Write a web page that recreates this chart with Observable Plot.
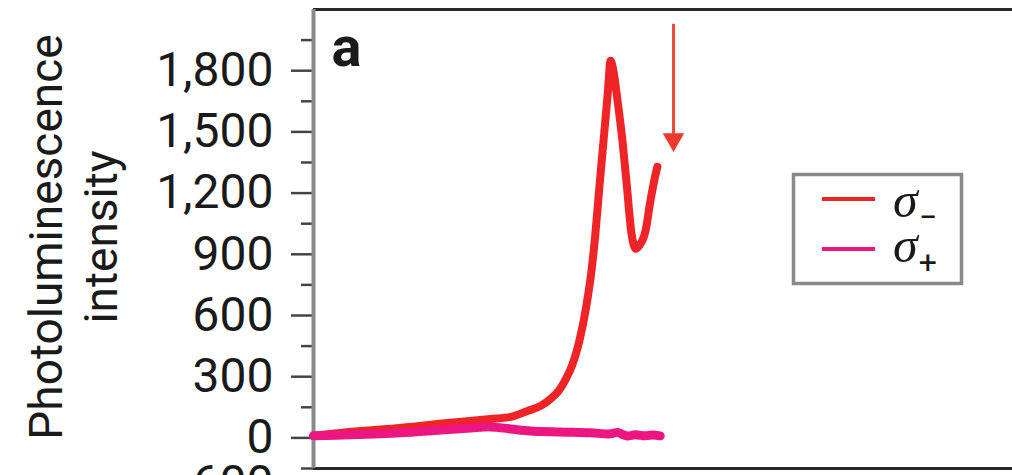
<!DOCTYPE html>
<html><head><meta charset="utf-8">
<script src="https://cdn.jsdelivr.net/npm/d3@7"></script>
<script src="https://cdn.jsdelivr.net/npm/@observablehq/plot@0.6"></script>
<style>
html,body{margin:0;padding:0;background:#fff;overflow:hidden}
#chart{position:relative;width:1012px;height:475px}
</style></head><body><div id="chart"></div>
<script>
// ---- data (x in arbitrary units, 0..100 across the visible frame) ----
const sigmaMinusX = [0, 6.7, 12.4, 19.6, 25.3, 28.2, 30.6, 32.5, 33.9, 35.1, 36.0, 37.0, 38.0, 39.0, 39.7, 40.3, 40.9, 41.5, 42.1, 42.5, 42.9, 43.5, 44.2, 44.8, 45.5, 46.1, 46.6, 47.5, 48.2, 48.8, 49.2];
const sigmaMinusY = [10, 34, 49, 74, 93, 103, 132, 157, 191, 232, 282, 355, 470, 640, 800, 990, 1230, 1460, 1690, 1849, 1800, 1653, 1456, 1246, 1000, 927, 942, 1015, 1162, 1270, 1329];
const sigmaPlusX = [0, 5.3, 12.4, 18.2, 22.5, 25.3, 28.2, 31.0, 35.3, 39.6, 42.5, 43.5, 44.2, 44.9, 46.0, 47.5, 48.5, 49.6];
const sigmaPlusY = [10, 15, 25, 39, 49, 54, 44, 34, 29, 25, 20, 27, 17, 9, 15, 10, 14, 10];
const seriesNames = ["σ", "σ"];
const seriesSubs = ["\u2212", "+"];
const seriesColors = ["#ee2426", "#ec1682"];
const yMajorTicks = [0, 300, 600, 900, 1200, 1500, 1800];
const yMinorTicks = [-150, 150, 450, 750, 1050, 1350, 1650, 1950];
const yDomain = [-150, 2100];
const xDomain = [0, 100];
const yTitleLines = ["Photoluminescence", "intensity"];
const panelLabel = "a";
const clippedLabel = "600";
const arrowX = [51.5];
const arrowTop = [2030];
const arrowTip = [1463];

const minus = sigmaMinusX.map((x, i) => ({x, y: sigmaMinusY[i]}));
const plus = sigmaPlusX.map((x, i) => ({x, y: sigmaPlusY[i]}));
const arrow = arrowX.map((x, i) => ({x, y1: arrowTop[i], y2: arrowTip[i]}));

const font = "Roboto";
const plot = Plot.plot({
  width: 1012, height: 475,
  marginLeft: 313, marginRight: 0, marginTop: 9, marginBottom: 7,
  style: {fontFamily: font, background: "white", overflow: "visible"},
  x: {domain: xDomain, axis: null},
  y: {domain: yDomain, axis: null},
  marks: [
    Plot.axisY(yMinorTicks, {tickSize: 12, fill: "none", stroke: "#444", strokeWidth: 2.5, label: null}),
    Plot.axisY(yMajorTicks, {tickSize: 22, tickPadding: 18, tickFormat: d3.format(","), stroke: "#444", strokeWidth: 2.5, fill: "#1a1a1a", fontSize: 48, label: null}),
    Plot.ruleY([yDomain[1]], {stroke: "#2a2a2a", strokeWidth: 3}),
    Plot.ruleY([yDomain[0]], {stroke: "#2a2a2a", strokeWidth: 3}),
    Plot.ruleX([xDomain[0]], {stroke: "#8a8a8a", strokeWidth: 4}),
    Plot.line(minus, {x: "x", y: "y", curve: "monotone-x", stroke: seriesColors[0], strokeWidth: 8, strokeLinejoin: "round", strokeLinecap: "round"}),
    Plot.line(plus, {x: "x", y: "y", curve: "catmull-rom", stroke: seriesColors[1], strokeWidth: 9, strokeLinejoin: "round"}),
    Plot.link(arrow, {x1: "x", x2: "x", y1: "y1", y2: "y2", stroke: "#f04a45", strokeWidth: 3}),
    Plot.dot(arrow, {x: "x", y: "y2", symbol: "triangle", rotate: 180, r: 8, fill: "#ee3a2c", stroke: null}),
    Plot.text([panelLabel], {frameAnchor: "top-left", dx: 18, dy: 17, textAnchor: "start", lineAnchor: "top", fontWeight: "bold", fontSize: 56, fill: "#1a1a1a"}),
    Plot.text([yTitleLines.join("\n")], {frameAnchor: "left", dx: -242, dy: -2, rotate: -90, fontSize: 46, lineHeight: 1.2, textAnchor: "middle", lineAnchor: "middle", fill: "#1a1a1a"}),
    Plot.text([clippedLabel], {frameAnchor: "bottom-left", dx: -40, dy: -4, textAnchor: "end", lineAnchor: "top", fontSize: 48, fill: "#1a1a1a"})
  ]
});
document.getElementById("chart").appendChild(plot);

// ---- legend box ----
const svg = d3.select(plot);
const lg = svg.append("g").attr("text-anchor", "start");
lg.append("rect").attr("x", 793.5).attr("y", 174.5).attr("width", 168).attr("height", 109)
  .attr("fill", "white").attr("stroke", "#8a8a8a").attr("stroke-width", 3.5);
const rowY = [199, 249];
const textY = [217, 262];
seriesNames.forEach((name, i) => {
  lg.append("line").attr("x1", 822).attr("x2", 875).attr("y1", rowY[i]).attr("y2", rowY[i])
    .attr("stroke", seriesColors[i]).attr("stroke-width", 4);
  const t = lg.append("text").attr("x", 893).attr("y", textY[i]).attr("fill", "#1a1a1a").attr("text-anchor", "start");
  t.append("tspan").attr("font-family", "Liberation Serif").attr("font-style", "italic").attr("font-size", 50).text(name);
  t.append("tspan").attr("font-family", font).attr("font-size", 32).attr("dx", 1).attr("dy", 11).text(seriesSubs[i]);
});
</script></body></html>
